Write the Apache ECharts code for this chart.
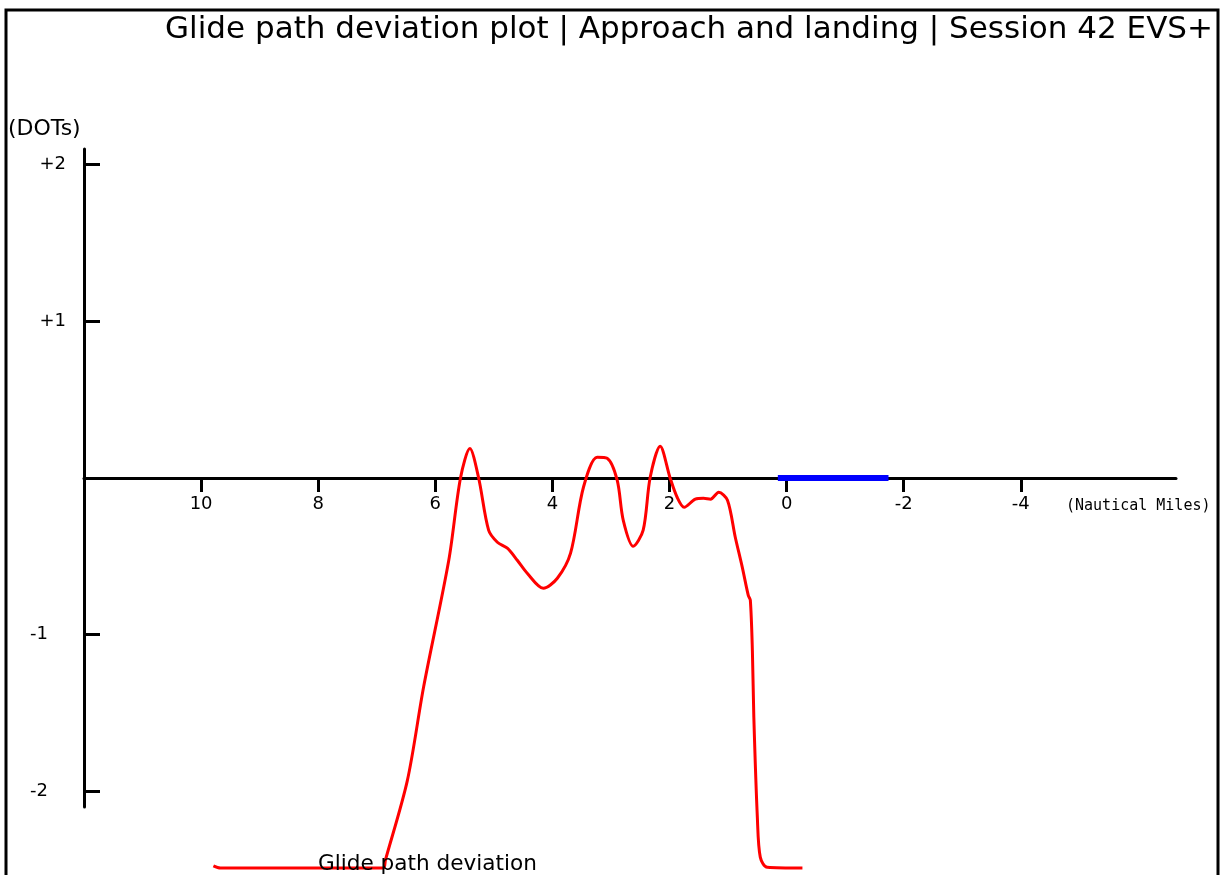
<!DOCTYPE html>
<html>
<head>
<meta charset="utf-8">
<title>Glide path deviation plot</title>
<script src="https://cdn.jsdelivr.net/npm/echarts@6/dist/echarts.min.js"></script>
<style>
  html, body { margin: 0; padding: 0; background: #fff; }
  #chart { width: 1221px; height: 875px; }
</style>
</head>
<body>
<div id="chart"></div>
<script>
// distance to threshold (NM) and glide path deviation (dots)
const distNm = [9.79, 9.67, 8.30, 6.89, 6.853, 6.477, 6.20, 5.77, 5.57, 5.41,
  5.26, 5.09, 4.94, 4.77, 4.60, 4.43, 4.155, 3.916, 3.69, 3.47,
  3.235, 3.065, 2.894, 2.79, 2.62, 2.45, 2.33, 2.16, 1.99, 1.87,
  1.75, 1.56, 1.42, 1.30, 1.16, 1.01, 0.877, 0.757, 0.655, 0.62,
  0.585, 0.56, 0.50, 0.45, 0.33, -0.27];
const gsDots = [-2.476, -2.49, -2.49, -2.49, -2.44, -1.93, -1.334, -0.525, 0.0, 0.188,
  0.0, -0.333, -0.41, -0.448, -0.525, -0.608, -0.704, -0.64, -0.48, -0.059,
  0.133, 0.126, -0.014, -0.27, -0.436, -0.333, 0.005, 0.203, 0.0, -0.123,
  -0.187, -0.135, -0.129, -0.135, -0.091, -0.142, -0.378, -0.57, -0.749, -0.78,
  -1.1, -1.527, -2.166, -2.42, -2.485, -2.49];

// runway (threshold to far end), drawn on the zero line
const runwayNm = [0.15, -1.74];

const xTicks = [10, 8, 6, 4, 2, 0, -2, -4];
const yTicks = [2, 1, -1, -2];

const chart = echarts.init(document.getElementById('chart'));

const glideData = distNm.map((d, i) => [d, gsDots[i]]);
const runwayData = runwayNm.map(d => [d, 0]);

// y range is symmetric, so the zero line sits half the grid height above the bottom
const gridTop = 149;
const gridHeight = 658;

chart.setOption({
  animation: false,
  backgroundColor: '#ffffff',
  textStyle: { fontFamily: 'DejaVu Sans', color: '#000' },
  title: [
    {
      text: 'Glide path deviation plot | Approach and landing | Session 42 EVS+',
      right: 3, top: 9,
      textStyle: { fontFamily: 'DejaVu Sans', fontSize: 31, fontWeight: 'normal', color: '#000' }
    },
    {
      text: '(DOTs)',
      left: 3, top: 113,
      textStyle: { fontFamily: 'DejaVu Sans', fontSize: 22, fontWeight: 'normal', color: '#000' }
    },
    {
      text: '(Nautical Miles)',
      left: 1061, top: 494,
      textStyle: { fontFamily: 'DejaVu Sans Mono', fontSize: 15, fontWeight: 'normal', color: '#000' }
    },
    {
      text: 'Glide path deviation',
      left: 313, top: 848,
      textStyle: { fontFamily: 'DejaVu Sans', fontSize: 21.6, fontWeight: 'normal', color: '#000' }
    }
  ],
  graphic: [{
    type: 'rect',
    shape: { x: 6, y: 10, width: 1212, height: 900 },
    style: { fill: 'none', stroke: '#000', lineWidth: 3 },
    silent: true
  }],
  grid: { left: 84, right: 45, top: gridTop, height: gridHeight },
  xAxis: {
    type: 'value',
    inverse: true,
    min: -6.65,
    max: 12,
    offset: -gridHeight / 2,
    axisLine: { onZero: false, lineStyle: { color: '#000', width: 3 } },
    axisTick: { customValues: xTicks, length: 14, lineStyle: { color: '#000', width: 3 } },
    axisLabel: { customValues: xTicks, margin: 17, fontSize: 18, color: '#000', fontFamily: 'DejaVu Sans' },
    splitLine: { show: false }
  },
  yAxis: {
    type: 'value',
    min: -2.1,
    max: 2.1,
    axisLine: { show: true, onZero: false, lineStyle: { color: '#000', width: 3 } },
    axisTick: { customValues: yTicks, inside: true, length: 16, lineStyle: { color: '#000', width: 3 } },
    axisLabel: {
      customValues: yTicks,
      margin: 18,
      fontSize: 18,
      color: '#000',
      fontFamily: 'DejaVu Sans',
      formatter: v => (v > 0 ? '{p|+' + v + '}' : '{n|' + v + '}'),
      rich: {
        p: { fontSize: 18, fontFamily: 'DejaVu Sans', color: '#000' },
        n: { fontSize: 18, fontFamily: 'DejaVu Sans', color: '#000', padding: [0, 18, 0, 0] }
      }
    },
    splitLine: { show: false }
  },
  series: [
    {
      name: 'Glide path deviation',
      type: 'line',
      data: glideData,
      smooth: 0.3,
      showSymbol: false,
      clip: false,
      lineStyle: { color: '#ff0000', width: 3 },
      z: 3
    },
    {
      name: 'Runway',
      type: 'line',
      data: runwayData,
      showSymbol: false,
      lineStyle: { color: '#0000ff', width: 6 },
      z: 4
    }
  ]
});
</script>
</body>
</html>
